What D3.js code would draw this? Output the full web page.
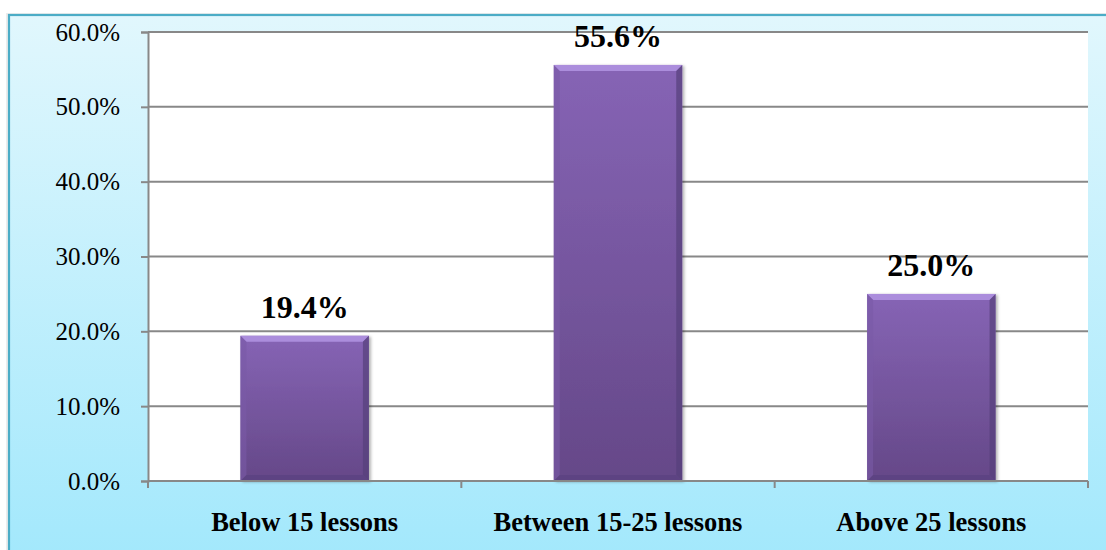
<!DOCTYPE html>
<html>
<head>
<meta charset="utf-8">
<script src="https://cdn.jsdelivr.net/npm/d3@7/dist/d3.min.js"></script>
<style>
  html, body { margin: 0; padding: 0; background: #ffffff; }
  svg { display: block; }
  svg text { font-family: "Liberation Serif", "Times New Roman", Times, "DejaVu Serif", serif; }
</style>
</head>
<body>
<script>
// ---- data ----
const categories = ["Below 15 lessons", "Between 15-25 lessons", "Above 25 lessons"];
const values = [19.4, 55.6, 25.0];
const yTicks = [0, 10, 20, 30, 40, 50, 60];
const valueLabels = ["19.4%", "55.6%", "25.0%"];

const W = 1106, H = 550;
const plot = { left: 148, right: 1088, top: 32, bottom: 481 };

const svg = d3.select("body").append("svg").attr("width", W).attr("height", H);
const defs = svg.append("defs");

const bg = defs.append("linearGradient").attr("id", "bgGrad").attr("x1", 0).attr("y1", 0).attr("x2", 0).attr("y2", 1);
bg.append("stop").attr("offset", "0%").attr("stop-color", "#e1f7fd");
bg.append("stop").attr("offset", "100%").attr("stop-color", "#a2e8fc");

const barG = defs.append("linearGradient").attr("id", "barGrad").attr("x1", 0).attr("y1", 0).attr("x2", 0).attr("y2", 1);
barG.append("stop").attr("offset", "0%").attr("stop-color", "#8664b5");
barG.append("stop").attr("offset", "100%").attr("stop-color", "#654888");

const shadow = defs.append("filter").attr("id", "shadow").attr("x", "-10%").attr("y", "-10%").attr("width", "130%").attr("height", "130%");
shadow.append("feDropShadow").attr("dx", 2).attr("dy", 1).attr("stdDeviation", 1.5).attr("flood-color", "#000").attr("flood-opacity", 0.3);

// frame shadow + background
svg.append("rect").attr("x", 6).attr("y", 13).attr("width", W).attr("height", H)
  .attr("fill", "#ececec");
svg.append("rect").attr("x", 9).attr("y", 15).attr("width", W).attr("height", H)
  .attr("fill", "url(#bgGrad)").attr("stroke", "#4bacc6").attr("stroke-width", 2.2);

// plot area
svg.append("rect").attr("x", plot.left).attr("y", plot.top)
  .attr("width", plot.right - plot.left).attr("height", plot.bottom - plot.top)
  .attr("fill", "#ffffff");

const x = d3.scaleBand().domain(categories).range([plot.left, plot.right]).padding(0);
const y = d3.scaleLinear().domain([0, 60]).range([plot.bottom, plot.top]);

// gridlines
svg.append("g").selectAll("line").data(yTicks.filter(d => d > 0)).join("line")
  .attr("x1", plot.left).attr("x2", plot.right)
  .attr("y1", d => y(d)).attr("y2", d => y(d))
  .attr("stroke", "#888888").attr("stroke-width", 2);

// bars
const barW = x.bandwidth() * 0.41;
const bev = 6;
const bars = svg.append("g").selectAll("g").data(values).join("g")
  .attr("transform", (d, i) => `translate(${x(categories[i]) + (x.bandwidth() - barW) / 2},${y(d)})`);
bars.append("rect")
  .attr("width", barW).attr("height", d => y(0) - y(d))
  .attr("fill", "url(#barGrad)").attr("filter", "url(#shadow)");
bars.append("polygon")
  .attr("points", d => `0,0 ${barW},0 ${barW - bev},${bev} ${bev},${bev}`)
  .attr("fill", "#ab8ddc");
bars.append("polygon")
  .attr("points", d => { const h = y(0) - y(d); return `0,0 ${bev},${bev} ${bev},${h - bev} 0,${h}`; })
  .attr("fill", "#7a5aa6").attr("opacity", 0.6);
bars.append("polygon")
  .attr("points", d => { const h = y(0) - y(d); return `${barW},0 ${barW - bev},${bev} ${barW - bev},${h - bev} ${barW},${h}`; })
  .attr("fill", "#55407a").attr("opacity", 0.7);
bars.append("polygon")
  .attr("points", d => { const h = y(0) - y(d); return `0,${h} ${bev},${h - bev} ${barW - bev},${h - bev} ${barW},${h}`; })
  .attr("fill", "#5a4180").attr("opacity", 0.7);

// value labels
svg.append("g").selectAll("text").data(values).join("text")
  .attr("x", (d, i) => x(categories[i]) + x.bandwidth() / 2)
  .attr("y", d => y(d) - 18)
  .attr("text-anchor", "middle")
  .attr("font-weight", "bold").attr("font-size", 32).attr("fill", "#000")
  .text((d, i) => valueLabels[i]);

// y axis
const yAxis = svg.append("g").attr("transform", `translate(${plot.left},0)`)
  .call(d3.axisLeft(y).tickValues(yTicks).tickSize(7).tickPadding(21).tickFormat(d => d.toFixed(1) + "%"));
yAxis.attr("font-family", null);
yAxis.select(".domain").attr("stroke", "#888888").attr("stroke-width", 2);
yAxis.selectAll(".tick line").attr("stroke", "#888888").attr("stroke-width", 2);
yAxis.selectAll("text").attr("font-size", 25).attr("fill", "#000");

// x axis
const boundaries = [0, 1, 2, 3];
const xAxisG = svg.append("g");
xAxisG.append("line").attr("x1", plot.left).attr("x2", plot.right).attr("y1", y(0)).attr("y2", y(0))
  .attr("stroke", "#888888").attr("stroke-width", 2);
xAxisG.selectAll("line.tk").data(boundaries).join("line").attr("class", "tk")
  .attr("x1", d => plot.left + d * x.step()).attr("x2", d => plot.left + d * x.step())
  .attr("y1", y(0)).attr("y2", y(0) + 7)
  .attr("stroke", "#888888").attr("stroke-width", 2);
xAxisG.selectAll("text").data(categories).join("text")
  .attr("x", d => x(d) + x.bandwidth() / 2).attr("y", 531)
  .attr("text-anchor", "middle")
  .attr("font-weight", "bold").attr("font-size", 26.5).attr("fill", "#000")
  .text(d => d);
</script>
</body>
</html>
